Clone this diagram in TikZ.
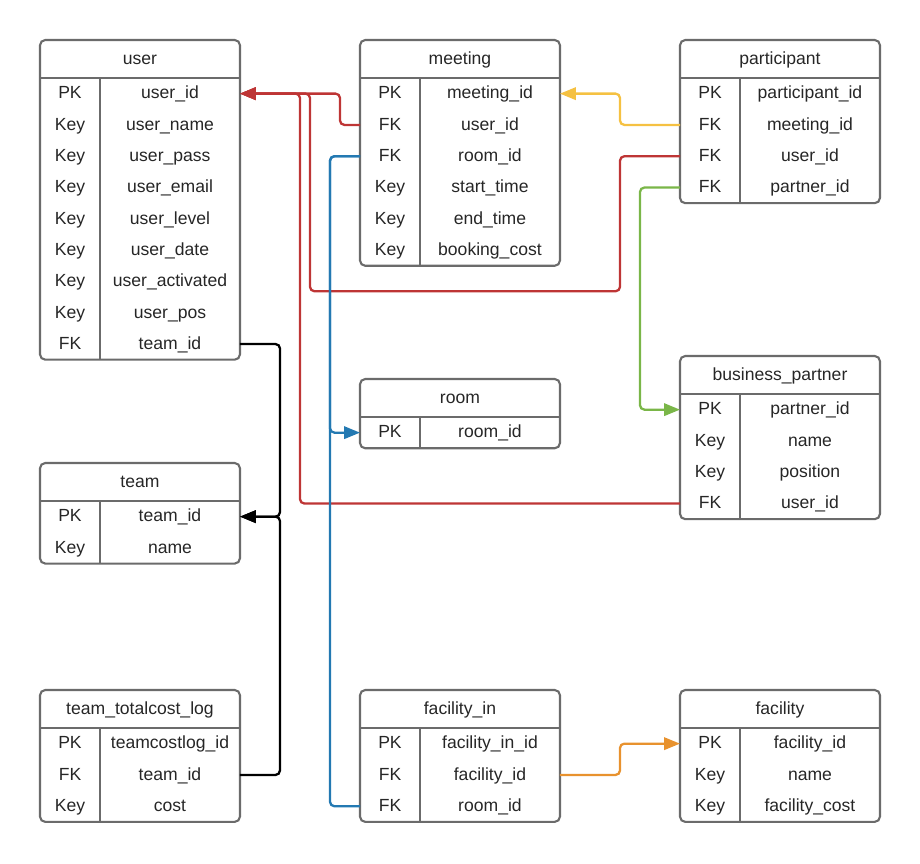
\documentclass[tikz,border=0pt]{standalone}
\usepackage{fontspec}
\setmainfont{Liberation Sans}
\usetikzlibrary{arrows.meta}
\definecolor{linegray}{HTML}{6B6B6B}
\definecolor{textgray}{HTML}{262626}
\definecolor{fkred}{HTML}{BE3535}
\definecolor{fkblue}{HTML}{2379B2}
\definecolor{fkyellow}{HTML}{F5C142}
\definecolor{fkgreen}{HTML}{7AB648}
\definecolor{fkorange}{HTML}{E8922E}
\tikzstyle{head} = [minimum width=4cm, minimum height=0.76cm, inner sep=0pt, outer sep=0pt, text=textgray, text height=1.6ex, text depth=0.45ex]
\tikzstyle{keycell} = [minimum width=1.2cm, minimum height=0.626cm, inner sep=0pt, outer sep=0pt, text=textgray, text height=1.6ex, text depth=0.45ex]
\tikzstyle{fieldcell} = [minimum width=2.8cm, minimum height=0.626cm, inner sep=0pt, outer sep=0pt, text=textgray, text height=1.6ex, text depth=0.45ex]
\tikzstyle{frame} = [draw=linegray, line width=1.2pt]
\tikzstyle{link} = [line width=1.3pt, rounded corners=2.5pt]
\tikzstyle{arrow} = [-{Triangle[length=9pt,width=7pt]}]
\newcommand{\erdtable}[5]{%
	\node[head, anchor=north west] (#1) at (#2,#3) {#4};
	\foreach \k/\f [count=\i] in {#5} {
		\pgfmathsetmacro{\rowy}{#3+38+(\i-1)*31.3}
		\node[keycell, anchor=north west] (#1-k\i) at (#2,\rowy) {\k};
		\node[fieldcell, anchor=west] (#1-\i) at (#1-k\i.east) {\f};
		\xdef\lastrow{\i}
	}
	\draw[frame, rounded corners=3pt] (#1.north west) rectangle (#1-\lastrow.south east);
	\draw[frame] (#1.south west) -- (#1.south east);
	\draw[frame] (#1-k1.north east) -- (#1-k\lastrow.south east);
}

\begin{document}
\begin{tikzpicture}[x=0.02cm, y=-0.02cm, font=\fontsize{10}{12}\selectfont]
	\useasboundingbox (0,0) rectangle (920,864);
	\erdtable{user}{40}{40}{user}{PK/user\_id, Key/user\_name, Key/user\_pass, Key/user\_email, Key/user\_level, Key/user\_date, Key/user\_activated, Key/user\_pos, FK/team\_id}
	\erdtable{meeting}{360}{40}{meeting}{PK/meeting\_id, FK/user\_id, FK/room\_id, Key/start\_time, Key/end\_time, Key/booking\_cost}
	\erdtable{participant}{680}{40}{participant}{PK/participant\_id, FK/meeting\_id, FK/user\_id, FK/partner\_id}
	\erdtable{room}{360}{379}{room}{PK/room\_id}
	\erdtable{partner}{680}{356}{business\_partner}{PK/partner\_id, Key/name, Key/position, FK/user\_id}
	\erdtable{team}{40}{463}{team}{PK/team\_id, Key/name}
	\erdtable{costlog}{40}{690}{team\_totalcost\_log}{PK/teamcostlog\_id, FK/team\_id, Key/cost}
	\erdtable{facilityin}{360}{690}{facility\_in}{PK/facility\_in\_id, FK/facility\_id, FK/room\_id}
	\erdtable{facility}{680}{690}{facility}{PK/facility\_id, Key/name, Key/facility\_cost}

	\draw[link, fkred, arrow] (meeting-k2.west) -- ++(-20,0) |- (user-1.east);
	\draw[link, fkred, arrow] (participant-k3.west) -- ++(-60,0) -- ++(0,135) -- ++(-310,0) |- (user-1.east);
	\draw[link, fkred, arrow] (partner-k4.west) -- ++(-380,0) |- (user-1.east);
	\draw[link, fkblue] (meeting-k3.west) -- ++(-30,0) |- (facilityin-k3.west);
	\draw[link, fkblue, arrow] (meeting-k3.west) -- ++(-30,0) |- (room-k1.west);
	\draw[link, fkyellow, arrow] (participant-k2.west) -- ++(-60,0) |- (meeting-1.east);
	\draw[link, fkgreen, arrow] (participant-k4.west) -- ++(-40,0) |- (partner-k1.west);
	\draw[link, black, arrow] (user-9.east) -- ++(40,0) |- (team-1.east);
	\draw[link, black, arrow] (costlog-2.east) -- ++(40,0) |- (team-1.east);
	\draw[link, fkorange, arrow] (facilityin-2.east) -- ++(60,0) |- (facility-k1.west);
\end{tikzpicture}
\end{document}
